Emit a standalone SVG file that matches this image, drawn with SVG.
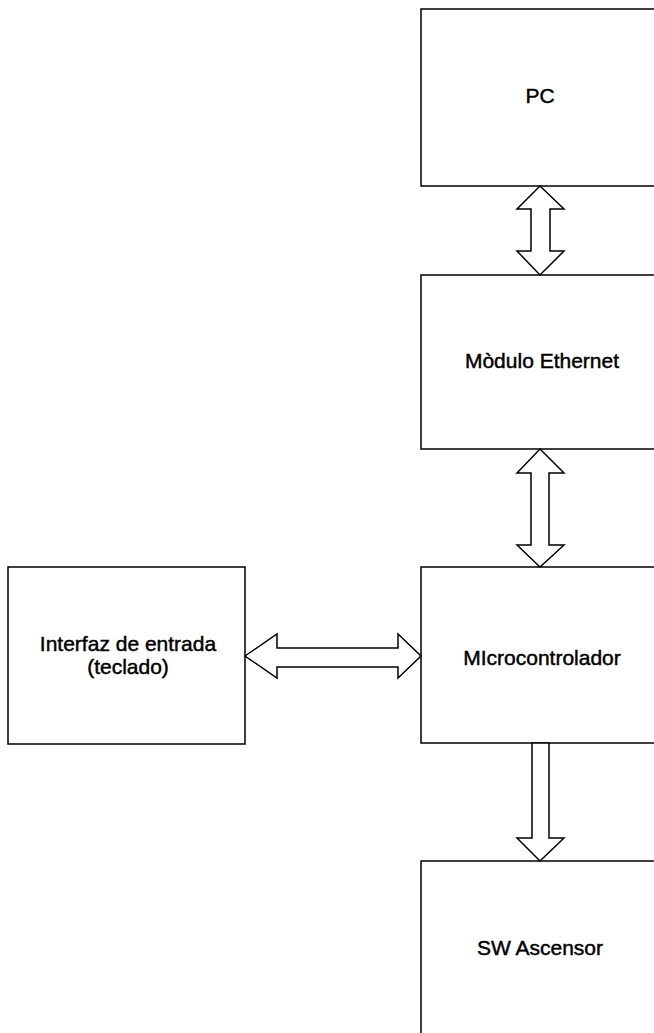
<svg xmlns="http://www.w3.org/2000/svg" width="654" height="1033" viewBox="0 0 654 1033">
<style>
.box{fill:#fff;stroke:#000;stroke-width:1.5}
.arr{fill:#fff;stroke:#000;stroke-width:1.5;stroke-linejoin:miter}
.t{font-family:"Liberation Sans",Arial,sans-serif;font-size:21px;fill:#000;stroke:#000;stroke-width:0.45;text-anchor:middle}
</style>
<rect width="654" height="1033" fill="#fff"/>
<g id="pc"><rect class="box" x="421" y="9" width="240" height="177"/><text class="t" x="540" y="103">PC</text></g>
<g id="ethernet"><rect class="box" x="421" y="275" width="240" height="174"/><text class="t" x="542" y="368">Mòdulo Ethernet</text></g>
<g id="micro"><rect class="box" x="421" y="567" width="240" height="176"/><text class="t" x="542" y="665">MIcrocontrolador</text></g>
<g id="sw"><rect class="box" x="421" y="861" width="240" height="180"/><text class="t" x="540" y="955">SW Ascensor</text></g>
<g id="interfaz"><rect class="box" x="8" y="567" width="237" height="177"/><text class="t" x="128" y="651">Interfaz de entrada</text><text class="t" x="128" y="674">(teclado)</text></g>
<g id="connectors">
<polygon class="arr" points="540,186 564,209 550,209 550,251 564,251 540,275 517,251 531,251 531,209 517,209"/>
<polygon class="arr" points="540,449 564,473 549,473 549,545 564,545 540,567 517,545 531,545 531,473 517,473"/>
<polygon class="arr" points="532,743 549,743 549,838 564,838 540,861 517,838 532,838"/>
<polygon class="arr" points="245,656 277,634 277,648 398,648 398,634 421,656 398,678 398,667 277,667 277,678"/>
</g>
</svg>
